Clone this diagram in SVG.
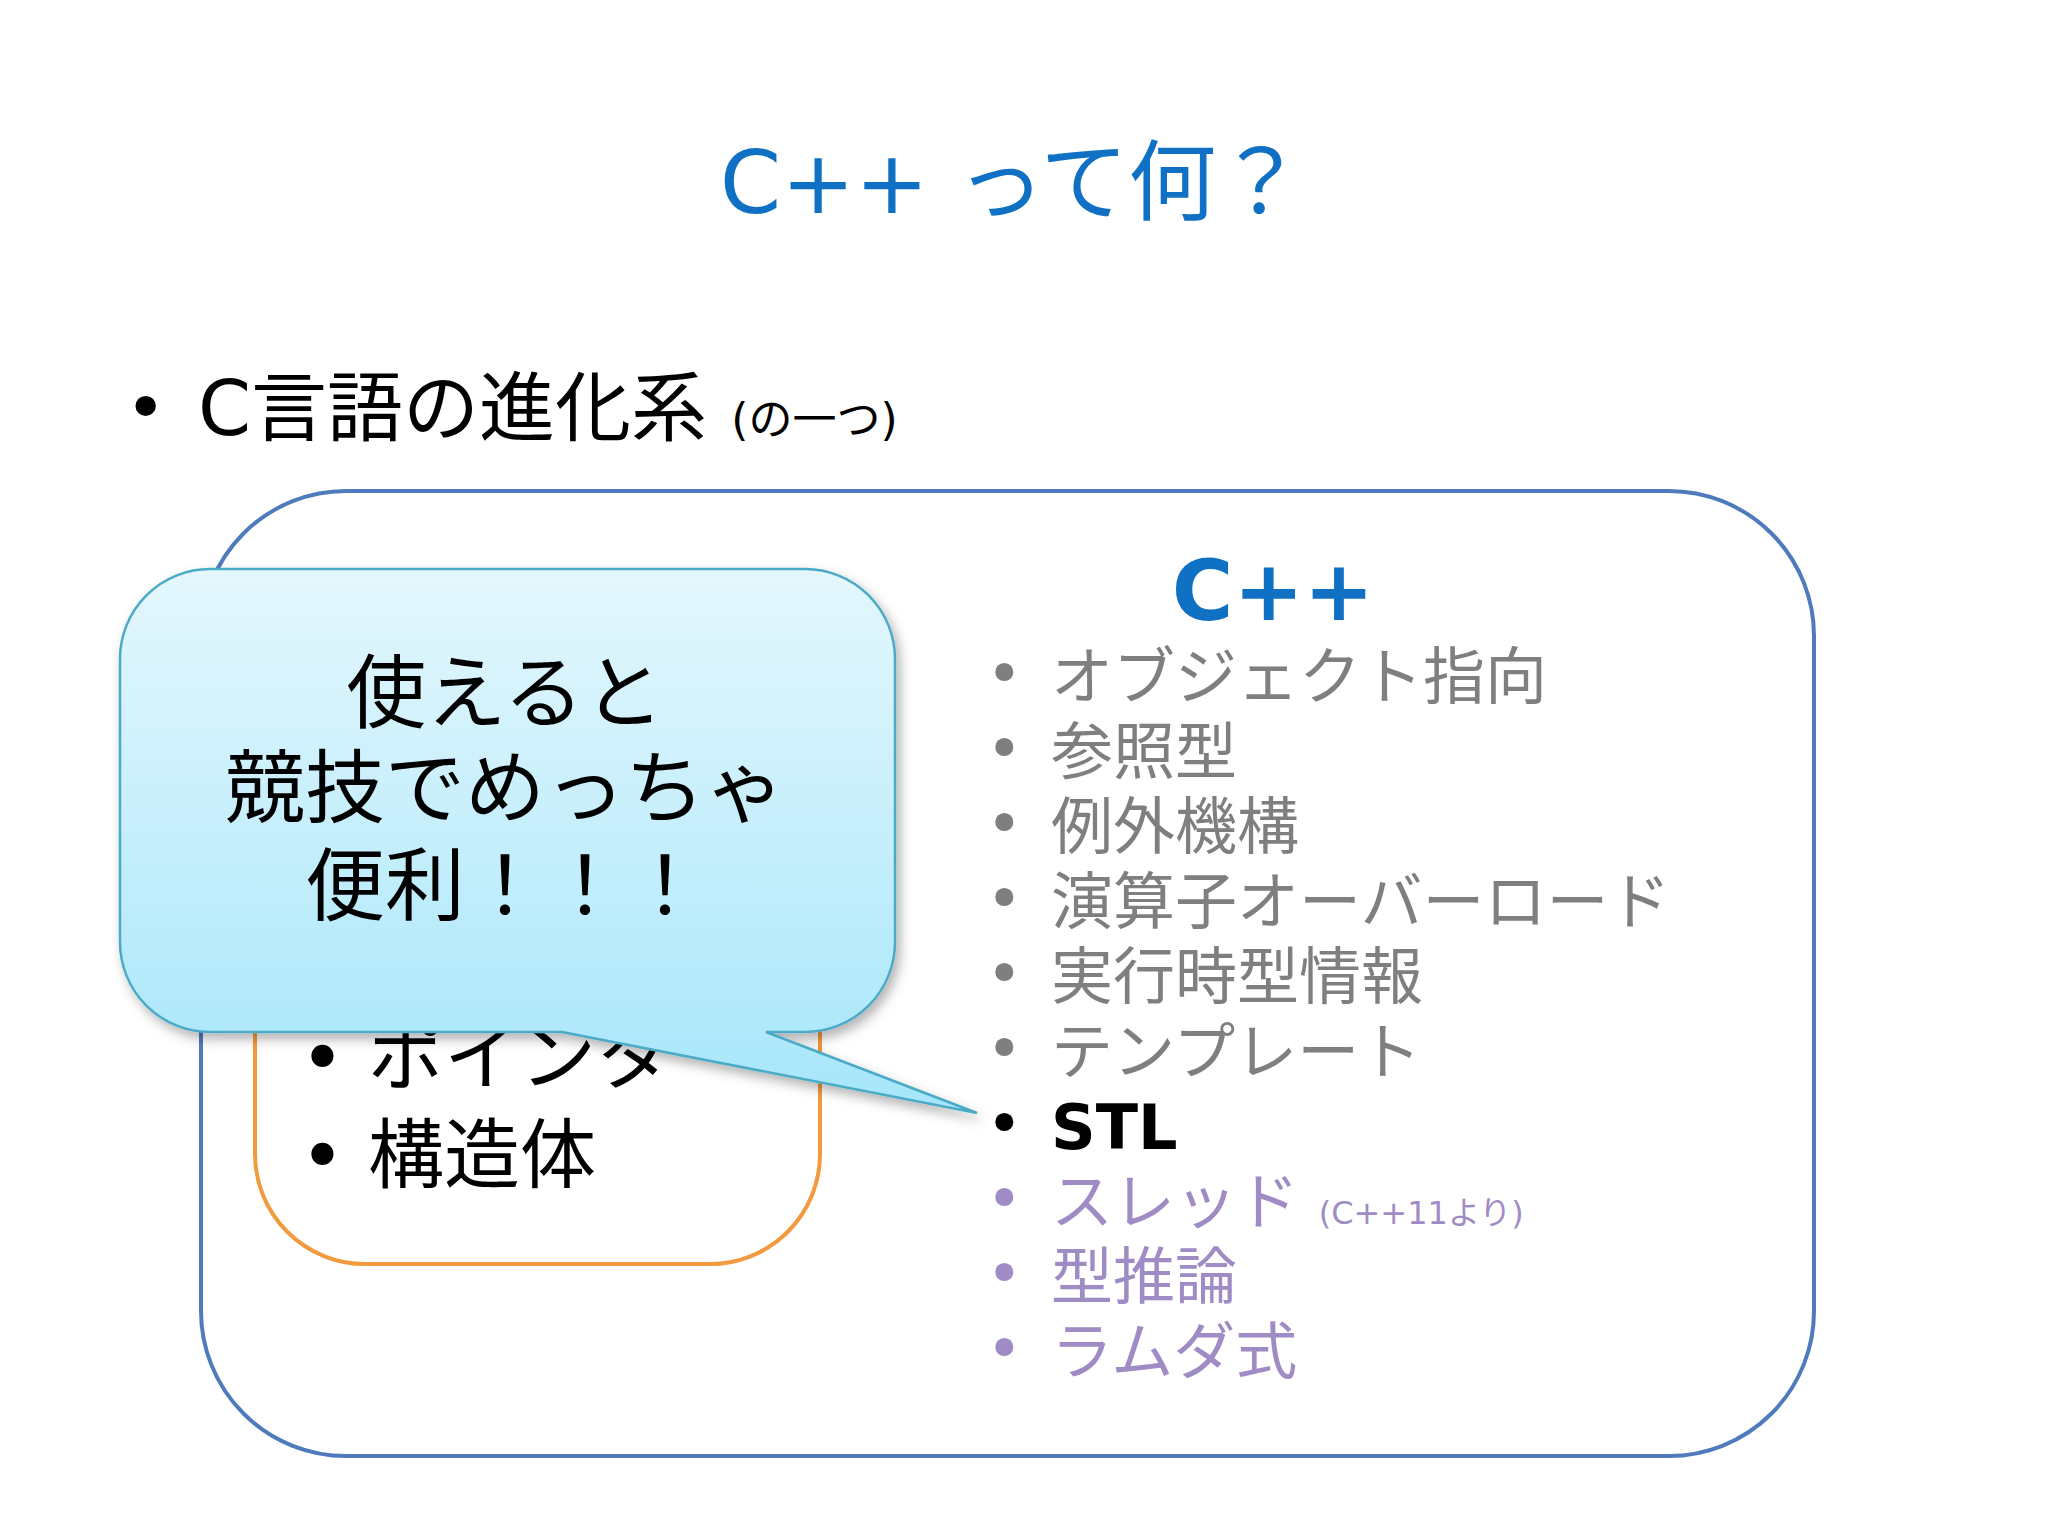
<svg xmlns="http://www.w3.org/2000/svg" width="2048" height="1536" viewBox="0 0 2048 1536">
<style>
text{font-family:"DejaVu Sans","Noto Sans CJK JP",sans-serif}
.g{fill:#7F7F7F;font-size:62px}
.p{fill:#A08CC4;font-size:62px}
.bl{fill:#000;font-size:76px}
.bb{fill:#000;font-size:80px}
</style>
<defs>
<linearGradient id="bg" x1="0" y1="0" x2="0" y2="1">
<stop offset="0" stop-color="#E4F7FD"/><stop offset="1" stop-color="#A6E6FA"/>
</linearGradient>
<filter id="sh" x="-10%" y="-10%" width="130%" height="130%"><feDropShadow dx="4" dy="6" stdDeviation="6" flood-color="#000" flood-opacity="0.3"/></filter>
</defs>
<rect width="2048" height="1536" fill="#fff"/>
<text x="1012" y="213" text-anchor="middle" fill="#1071C4" font-size="88">C++ って何？</text>
<g id="bullet-main">
<text x="125" y="432" font-size="70" fill="#000">•</text>
<text x="198" y="435" font-size="76" fill="#000">C言語の進化系 <tspan font-size="44">(の一つ)</tspan></text>
</g>
<g id="cpp-box">
<rect x="201" y="491" width="1613" height="965" rx="145" fill="#fff" stroke="#4F7BBD" stroke-width="4"/>
<text x="1273" y="620" text-anchor="middle" fill="#1071C4" font-size="84" font-weight="bold">C++</text>
<g>
<text x="986" y="695" class="g">•</text><text x="1051" y="699" class="g">オブジェクト指向</text>
<text x="986" y="770" class="g">•</text><text x="1051" y="774" class="g">参照型</text>
<text x="986" y="845" class="g">•</text><text x="1051" y="849" class="g">例外機構</text>
<text x="986" y="920" class="g">•</text><text x="1051" y="924" class="g">演算子オーバーロード</text>
<text x="986" y="995" class="g">•</text><text x="1051" y="999" class="g">実行時型情報</text>
<text x="986" y="1070" class="g">•</text><text x="1051" y="1074" class="g">テンプレート</text>
<text x="986" y="1145" font-size="62" fill="#000">•</text><text x="1051" y="1149" font-size="62" fill="#000" font-weight="bold">STL</text>
<text x="986" y="1220" class="p">•</text><text x="1051" y="1224" class="p">スレッド <tspan font-size="32">(C++11より)</tspan></text>
<text x="986" y="1295" class="p">•</text><text x="1051" y="1299" class="p">型推論</text>
<text x="986" y="1370" class="p">•</text><text x="1051" y="1374" class="p">ラムダ式</text>
</g>
</g>
<g id="c-box">
<rect x="255" y="600" width="565" height="664" rx="110" fill="#fff" stroke="#F39A3E" stroke-width="4"/>
<text x="300" y="1084" class="bl">•</text><text x="368" y="1084" class="bl">ポインタ</text>
<text x="300" y="1182" class="bl">•</text><text x="368" y="1182" class="bl">構造体</text>
</g>
<g id="bubble">
<path d="M210,569 H805 A90,90 0 0 1 895,659 V942 A90,90 0 0 1 805,1032 H766 L977,1113 L562,1032 H210 A90,90 0 0 1 120,942 V659 A90,90 0 0 1 210,569 Z" fill="url(#bg)" stroke="#4BAAC6" stroke-width="2.5" filter="url(#sh)"/>
<text x="505" y="721" text-anchor="middle" class="bb">使えると</text>
<text x="505" y="816" text-anchor="middle" class="bb">競技でめっちゃ</text>
<text x="505" y="914" text-anchor="middle" class="bb">便利！！！</text>
</g>
</svg>
